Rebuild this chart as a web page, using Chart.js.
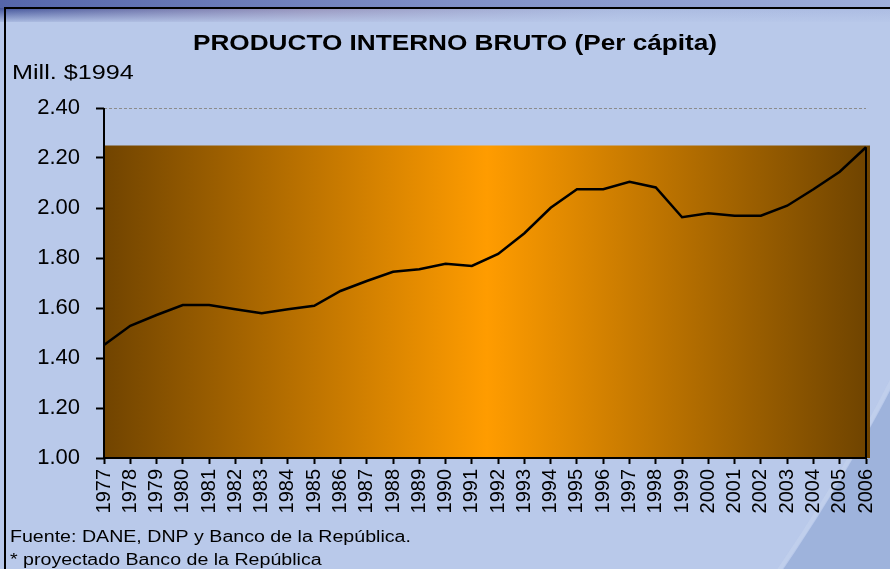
<!DOCTYPE html>
<html><head><meta charset="utf-8">
<script src="https://cdn.jsdelivr.net/npm/chart.js@4.4.1/dist/chart.umd.min.js"></script>
<style>html,body{margin:0;padding:0;background:#B9C9EA;overflow:hidden}canvas{display:block}</style>
</head><body>
<canvas id="c" width="890" height="569"></canvas>
<script>
const years = ['1977','1978','1979','1980','1981','1982','1983','1984','1985','1986','1987','1988','1989','1990','1991','1992','1993','1994','1995','1996','1997','1998','1999','2000','2001','2002','2003','2004','2005','2006'];
const gdpPerCapita = [1.452,1.529,1.572,1.612,1.612,1.595,1.579,1.595,1.609,1.668,1.708,1.745,1.755,1.777,1.768,1.816,1.899,2.001,2.075,2.075,2.105,2.082,1.963,1.979,1.969,1.969,2.009,2.075,2.145,2.243];
const yTicks = [1.00,1.20,1.40,1.60,1.80,2.00,2.20,2.40];
const panelTop = 2.25;
const titleText = 'PRODUCTO INTERNO BRUTO (Per cápita)';
const unitText = 'Mill. $1994';
const noteLines = ['Fuente: DANE, DNP y Banco de la República.', '* proyectado Banco de la República'];

const FONT = '"Liberation Sans", Arial, sans-serif';

const backdrop = {
  id: 'backdrop',
  beforeDraw(chart) {
    const ctx = chart.ctx, W = chart.width, H = chart.height;
    ctx.save();
    ctx.fillStyle = '#B9C9EA';
    ctx.fillRect(0, 0, W, H);
    // top band
    let g = ctx.createLinearGradient(0, 0, W, 0);
    g.addColorStop(0, '#5566AA'); g.addColorStop(0.5, '#7F8FC6'); g.addColorStop(1, '#9FAFDB');
    ctx.fillStyle = g; ctx.fillRect(0, 0, W, 8);
    g = ctx.createLinearGradient(0, 0, W, 0);
    g.addColorStop(0, 'rgba(60,78,150,0.95)'); g.addColorStop(0.35, 'rgba(130,115,160,0.6)'); g.addColorStop(0.7, 'rgba(150,165,210,0.4)'); g.addColorStop(1, 'rgba(160,176,220,0.5)');
    ctx.fillStyle = g; ctx.fillRect(0, 8, W, 14);
    g = ctx.createLinearGradient(0, 8, 0, 24);
    g.addColorStop(0, 'rgba(185,201,234,0)'); g.addColorStop(1, 'rgba(185,201,234,1)');
    ctx.fillStyle = g; ctx.fillRect(0, 8, W, 16);
    // bottom-right swoosh
    ctx.beginPath();
    ctx.rect(0, 0, W, H);
    ctx.arc(-593, -375, 1669, 0, Math.PI * 2, true);
    ctx.fillStyle = '#9EB3DC';
    ctx.fill('evenodd');
    ctx.beginPath();
    ctx.arc(-593, -375, 1666, 0.2, 0.8);
    ctx.strokeStyle = 'rgba(205,217,242,0.35)';
    ctx.lineWidth = 4;
    ctx.stroke();
    // frame lines
    ctx.fillStyle = '#000';
    ctx.fillRect(4, 7, W - 4, 2);
    ctx.fillRect(4, 7, 2, H - 7);
    // gradient panel
    const a = chart.chartArea, y = chart.scales.y;
    const top = y.getPixelForValue(panelTop);
    const right = a.right + 4;
    g = ctx.createLinearGradient(a.left, 0, right, 0);
    g.addColorStop(0, '#714400'); g.addColorStop(0.5, '#FF9C00'); g.addColorStop(1, '#6E4300');
    ctx.fillStyle = g;
    ctx.fillRect(a.left, top, right - a.left, a.bottom - top);
    ctx.restore();
  },
  afterDatasetsDraw(chart) {
    const ctx = chart.ctx, a = chart.chartArea, x = chart.scales.x, y = chart.scales.y;
    ctx.save();
    ctx.strokeStyle = '#000';
    ctx.lineWidth = 2;
    ctx.beginPath();
    ctx.moveTo(a.left, a.top);
    ctx.lineTo(a.left, a.bottom + 1);
    const li = gdpPerCapita.length - 1;
    const lx = x.getPixelForValue(li);
    ctx.moveTo(lx, y.getPixelForValue(gdpPerCapita[li]));
    ctx.lineTo(lx, a.bottom);
    ctx.stroke();
    ctx.restore();
  },
  afterDraw(chart) {
    const ctx = chart.ctx;
    ctx.save();
    ctx.fillStyle = '#000';
    ctx.textBaseline = 'alphabetic';
    ctx.font = 'bold 22px ' + FONT;
    ctx.textAlign = 'center';
    ctx.translate(455, 50); ctx.scale(1.19, 1);
    ctx.fillText(titleText, 0, 0);
    ctx.setTransform(1, 0, 0, 1, 0, 0);
    ctx.textAlign = 'left';
    ctx.font = '21px ' + FONT;
    ctx.translate(12, 79); ctx.scale(1.2, 1);
    ctx.fillText(unitText, 0, 0);
    ctx.setTransform(1, 0, 0, 1, 0, 0);
    ctx.font = '16px ' + FONT;
    ctx.translate(10, 542); ctx.scale(1.225, 1);
    ctx.fillText(noteLines[0], 0, 0);
    ctx.setTransform(1, 0, 0, 1, 0, 0);
    ctx.translate(10, 565); ctx.scale(1.225, 1);
    ctx.fillText(noteLines[1], 0, 0);
    ctx.restore();
  }
};

new Chart(document.getElementById('c'), {
  type: 'line',
  data: {
    labels: years,
    datasets: [{
      data: gdpPerCapita,
      borderColor: '#000',
      borderWidth: 2.5,
      pointRadius: 0,
      tension: 0,
      fill: false,
      clip: false
    }]
  },
  options: {
    responsive: false,
    animation: false,
    devicePixelRatio: 1,
    layout: { padding: { top: 108, left: 0, right: 24, bottom: 0 } },
    plugins: { legend: { display: false }, title: { display: false }, tooltip: { enabled: false } },
    scales: {
      x: {
        type: 'category',
        offset: false,
        grid: { drawOnChartArea: false, drawTicks: true, tickLength: 6, tickColor: '#000', tickWidth: 2 },
        border: { color: '#000', width: 2 },
        ticks: { minRotation: 90, maxRotation: 90, autoSkip: false, color: '#000', padding: 5, font: { family: FONT, size: 20 } },
        afterFit(s) { s.height = 111; s.paddingLeft = 0; s.paddingRight = 0; }
      },
      y: {
        min: 1, max: 2.4,
        afterBuildTicks(s) { s.ticks = yTicks.map(v => ({ value: v })); },
        grid: {
          color: c => (c.tick && Math.abs(c.tick.value - 2.4) < 1e-6) ? '#8C8C8C' : 'rgba(0,0,0,0)',
          lineWidth: 1,
          tickLength: 8, tickColor: '#000', tickWidth: 2
        },
        border: { display: false, dash: [3, 2] },
        ticks: { color: '#000', padding: 16, font: { family: FONT, size: 22 }, callback: v => Number(v).toFixed(2) },
        afterFit(s) { s.width = 104; s.paddingTop = 0; s.paddingBottom = 0; }
      }
    }
  },
  plugins: [backdrop]
});
</script>
</body></html>
